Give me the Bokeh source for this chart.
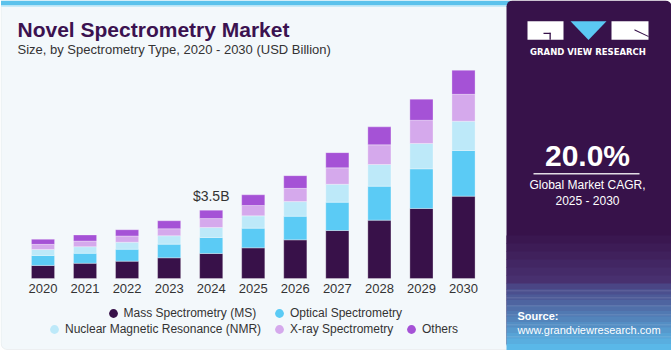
from bokeh.plotting import figure
from bokeh.models import (Range1d, Label, BoxAnnotation, Legend, LegendItem,
                          PolyAnnotation, ColumnDataSource)
from bokeh.embed import file_html
from bokeh.resources import INLINE
from bokeh.core.properties import value

# ---------------- data ----------------
years = ["2020", "2021", "2022", "2023", "2024", "2025", "2026", "2027", "2028", "2029", "2030"]
mass_spec = [0.67, 0.78, 0.89, 1.06, 1.28, 1.57, 1.98, 2.46, 2.99, 3.59, 4.22]
optical = [0.51, 0.51, 0.61, 0.70, 0.82, 1.01, 1.21, 1.45, 1.74, 2.03, 2.34]
nmr = [0.31, 0.34, 0.36, 0.43, 0.51, 0.63, 0.75, 0.92, 1.11, 1.30, 1.50]
xray = [0.26, 0.29, 0.32, 0.36, 0.46, 0.53, 0.68, 0.84, 1.01, 1.19, 1.38]
others = [0.26, 0.31, 0.32, 0.41, 0.43, 0.55, 0.65, 0.78, 0.92, 1.08, 1.23]
segment_names = ["Mass Spectrometry (MS)", "Optical Spectrometry",
                 "Nuclear Magnetic Resonance (NMR)", "X-ray Spectrometry", "Others"]
highlight_year = "2024"
highlight_text = "$3.5B"
title_text = "Novel Spectrometry Market"
subtitle_text = "Size, by Spectrometry Type, 2020 - 2030 (USD Billion)"
cagr_text = "20.0%"
cagr_caption = ["Global Market CAGR,", "2025 - 2030"]
brand_text = "GRAND VIEW RESEARCH"
source_lines = ["Source:", "www.grandviewresearch.com"]

# ---------------- style / layout ----------------
colors = ["#381149", "#5bcbf5", "#bde9f9", "#d5a9ec", "#a552d6"]
keys = ["ms", "optical", "nmr", "xray", "others"]
W, H = 671, 350
BASE_PY = 278            # canvas y of the bar baseline
FIRST_PX = 42.5          # canvas x of first bar centre
STEP_PX = 42.05          # px between bar centres
PX_PER_B = 68.3 / 3.5    # px per USD billion
FONT = "Liberation Sans"
BG = "#f3f8fb"
PURPLE = "#37124a"
# legend swatch centres (canvas px) for each series
legend_pos = [(112.5, 313.3), (279, 313.3), (54, 328.7), (279, 328.7), (411, 328.7)]

xs = list(range(len(years)))
src = ColumnDataSource(dict(x=xs, year=years, ms=mass_spec, optical=optical, nmr=nmr,
                            xray=xray, others=others))

x0 = -FIRST_PX / STEP_PX
p = figure(width=W, height=H,
           x_range=Range1d(x0, x0 + W / STEP_PX),
           y_range=Range1d(-(H - BASE_PY) / PX_PER_B, BASE_PY / PX_PER_B),
           output_backend="svg", toolbar_location=None,
           x_axis_location=None, y_axis_location=None,
           min_border=0, min_border_left=0, min_border_right=0,
           min_border_top=0, min_border_bottom=0, title=None)
p.background_fill_color = "white"
p.border_fill_color = "white"
p.outline_line_color = None
p.grid.visible = False


def sx(px):
    return px


def sy(py):
    return H - py


def box(x0_, y0, x1, y1, color, alpha=1.0, level="underlay", line=None, radius=0, lw=1):
    b = BoxAnnotation(left=sx(x0_), right=sx(x1), top=sy(y0), bottom=sy(y1),
                      left_units="screen", right_units="screen", top_units="screen",
                      bottom_units="screen", fill_color=color, fill_alpha=alpha,
                      line_color=line, line_width=lw, level=level, border_radius=radius,
                      editable=False)
    p.add_layout(b)
    return b


def label(px, py, text, size, color="#333333", bold=False, align="left", font=FONT,
          level="overlay"):
    # py is the canvas y of the middle of the capital letters
    l = Label(x=sx(px), y=sy(py), x_units="screen", y_units="screen", text=text,
              text_font=font, text_font_size=f"{size}px", text_color=color,
              text_font_style="bold" if bold else "normal", text_align=align,
              text_baseline="middle", level=level)
    p.add_layout(l)
    return l


def mix(c1, c2, t):
    a = [int(c1[i:i + 2], 16) for i in (1, 3, 5)]
    b = [int(c2[i:i + 2], 16) for i in (1, 3, 5)]
    return "#" + "".join(f"{round(a[k] + (b[k] - a[k]) * t):02x}" for k in range(3))


# left card
box(0.5, 0.5, 520, 349, BG, line="#cfd4d8", radius=6)
box(0.5, 0, 510, 5, "#5bc2ec")
box(0.5, 5, 510, 6.5, "#c9ebf9")

# right dark panel with bottom gradient
box(506, 0, 671, 349, PURPLE, radius=6)
n1 = 6
for i in range(n1):
    y0 = 235 + i * (283 - 235) / n1
    box(506, y0, 671, y0 + (283 - 235) / n1 + 0.5, mix("#37124a", "#48306f", (i + 1) / n1))
n2 = 12
for i in range(n2):
    y0 = 283 + i * (349 - 283) / n2
    box(506, y0, 671, y0 + (349 - 283) / n2 + 0.5, mix("#4a4585", "#5ab8e8", i / (n2 - 1)))
for gy in [290, 297, 305, 314, 324, 336]:
    box(506, gy, 671, gy + 0.8, "white", alpha=0.18)

# logo
box(527, 20.7, 563, 39.3, "white", level="overlay")
box(543, 32.2, 550, 33.4, PURPLE, level="overlay")
box(549, 32.2, 550.3, 39.3, PURPLE, level="overlay")
tri = PolyAnnotation(xs=[sx(570), sx(606), sx(588)], ys=[sy(20.7), sy(20.7), sy(39.5)],
                     xs_units="screen", ys_units="screen", fill_color="#5bc8f3",
                     fill_alpha=1, line_color=None, level="overlay", editable=False)
p.add_layout(tri)
box(611, 20.7, 648, 39.3, "white", level="overlay")
diag = PolyAnnotation(xs=[sx(634), sx(648), sx(648), sx(634)],
                      ys=[sy(28.8), sy(35.4), sy(36.6), sy(30.0)],
                      xs_units="screen", ys_units="screen", fill_color=PURPLE,
                      fill_alpha=1, line_color=None, level="overlay", editable=False)
p.add_layout(diag)
label(587.5, 51, brand_text, 8.5, color="white", bold=True, align="center", font="DejaVu Sans")

# CAGR block
label(587, 155, cagr_text, 30, color="white", bold=True, align="center")
box(533, 172.6, 639, 174, "white", alpha=0.85, level="overlay")
label(587, 184.5, cagr_caption[0], 12, color="white", align="center")
label(587, 200.9, cagr_caption[1], 12, color="white", align="center")

# source
label(517, 315.5, source_lines[0], 11, color="white", bold=True)
label(517, 329, source_lines[1], 11, color="white")

# titles
label(17, 28.7, title_text, 21, color="#3b1250", bold=True)
label(17, 48.5, subtitle_text, 13, color="#333333")

# bars
bars = p.vbar_stack(keys, x="x", width=0.55, color=colors, source=src,
                    line_color="white", line_width=0.5, line_alpha=0.6)

# category (year) labels under the bars, placed through the x scale
p.text(x="x", y=0, text="year", source=src, text_align="center",
       text_baseline="middle", y_offset=10, text_font=value(FONT),
       text_font_size="13px", text_color="#333333")

# highlight label
hi = years.index(highlight_year)
hsrc = ColumnDataSource(dict(x=[xs[hi]], y=[mass_spec[hi] + optical[hi] + nmr[hi] +
                                             xray[hi] + others[hi]],
                             t=[highlight_text]))
p.text(x="x", y="y", text="t", source=hsrc, text_align="center", text_baseline="middle",
       y_offset=-14.3, text_font=value(FONT), text_font_size="14px", text_color="#333333")

# legend handles (no visible points; only their legend swatches are drawn)
nan = float("nan")
dummies = [p.scatter(x=[nan], y=[nan], marker="circle", size=9, fill_color=c,
                     line_color=None) for c in colors]

for i, (cx, cy) in enumerate(legend_pos):
    lg = Legend(items=[LegendItem(label=segment_names[i], renderers=[dummies[i]])],
                location=(sx(cx - 11), sy(cy + 11)), orientation="horizontal",
                glyph_width=22, glyph_height=22, label_standoff=0, spacing=0,
                padding=0, margin=0, border_line_color=None, background_fill_alpha=0,
                label_text_font=FONT, label_text_font_size="12px",
                label_text_color="#333333", label_height=16)
    p.add_layout(lg)

open("out.html", "w").write(file_html(p, INLINE))
